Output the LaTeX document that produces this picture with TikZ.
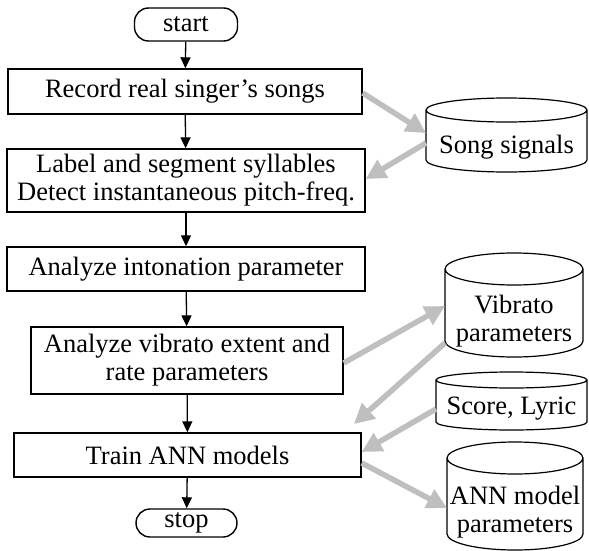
\documentclass[tikz,border=0pt]{standalone}
\usepackage{fontspec}
\setmainfont{Liberation Serif}
\usetikzlibrary{calc,arrows.meta}
\tikzset{
  proc/.style={draw, line width=1.4pt, align=center, inner sep=1pt},
  term/.style={draw, line width=1.4pt, rounded corners=14pt, inner sep=1pt},
  store/.style={align=center, inner sep=0pt, outer sep=0pt},
  drumline/.style={line width=1.2pt},
  flow/.style={line width=1.3pt, -{Triangle[length=11pt,width=10pt]}},
  data/.style={draw=gray!50, line width=5.5pt, -{Triangle[length=20pt,width=20pt]}}
}
% outline of a data store round a node: the node is the body under the top lid
\newcommand\drum[2]{%
  \draw[drumline] let \p1=(#1.north west), \p2=(#1.south east) in
    ({(\x1+\x2)/2},{\y1+#2}) ellipse [x radius={(\x2-\x1)/2}, y radius=#2]
    (\x1,{\y1+#2}) -- (\x1,{\y2+#2})
    arc[start angle=180, end angle=360, x radius={(\x2-\x1)/2}, y radius=#2]
    -- (\x2,{\y1+#2});}
\begin{document}
\begin{tikzpicture}[x=1pt, y=1pt, font=\fontsize{26.5}{28}\selectfont]
\useasboundingbox (0,0) rectangle (589,-551);
% main column
\node[term, minimum width=103pt, minimum height=33pt] (start) at (186,-24.5) {start};
\node[proc, minimum width=354pt, minimum height=45pt] (rec) at (185,-91.5) {Record real singer's songs};
\node[proc, minimum width=358pt, minimum height=63pt] (seg) at (186,-180.5) {Label and segment syllables\\Detect instantaneous pitch-freq.};
\node[proc, minimum width=358pt, minimum height=44pt] (into) at (186,-269) {Analyze intonation parameter};
\node[proc, minimum width=312pt, minimum height=67pt] (vibra) at (187,-360.5) {Analyze vibrato extent and\\rate parameters};
\node[proc, minimum width=347pt, minimum height=44pt] (train) at (187.5,-455) {Train ANN models};
\node[term, minimum width=101pt, minimum height=28pt] (stop) at (186.5,-523) {stop};
% data stores
\node[store, minimum width=161pt, minimum height=50pt] (sig) at (506.5,-147) {Song signals};
\node[store, minimum width=138pt, minimum height=72pt] (vpar) at (514,-321) {Vibrato\\parameters};
\node[store, minimum width=151pt, minimum height=42pt] (lyr) at (511.5,-409) {Score, Lyric};
\node[store, minimum width=136pt, minimum height=76pt] (annp) at (515,-512) {ANN model\\parameters};
\drum{sig}{12pt}
\drum{vpar}{16pt}
\drum{lyr}{8pt}
\drum{annp}{16pt}
\coordinate (tip) at (354,-424);

\draw[flow] (start) -- (rec);
\draw[flow] (rec) -- (seg);
\draw[flow] (seg) -- (into);
\draw[flow] (into) -- (vibra);
\draw[flow] (vibra) -- (train);
\draw[flow] (train) -- (stop);

\draw[data] ([yshift=-1.5pt]rec.east) -- ([yshift=14pt]sig.west);
\draw[data] ([yshift=4pt]sig.west) -- ([yshift=1.5pt]seg.east);
\draw[data] ([yshift=-2.5pt]vibra.east) -- ([yshift=15pt]vpar.west);
\draw[data] ([yshift=-22pt]vpar.west) -- (tip);
\draw[data] (lyr.west) -- ([yshift=3pt]train.east);
\draw[data] ([yshift=-8pt]train.east) -- ([yshift=4pt]annp.west);
\end{tikzpicture}
\end{document}
